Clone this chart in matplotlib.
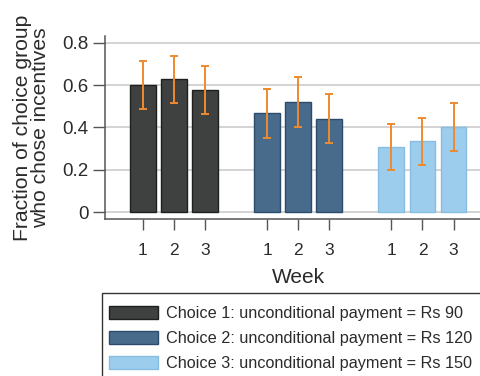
import matplotlib
matplotlib.use("Agg")
import matplotlib.pyplot as plt
from matplotlib.patches import Rectangle
import numpy as np

plt.rcParams['font.family'] = ['Liberation Sans', 'DejaVu Sans']

# fraction choosing incentives, per choice group and week
weeks = ['1', '2', '3']
choice1 = [0.60, 0.627, 0.575]
choice2 = [0.466, 0.521, 0.441]
choice3 = [0.308, 0.334, 0.401]
err1 = [0.113, 0.112, 0.114]
err2 = [0.116, 0.117, 0.115]
err3 = [0.108, 0.110, 0.114]
labels = ['Choice 1: unconditional payment = Rs 90',
          'Choice 2: unconditional payment = Rs 120',
          'Choice 3: unconditional payment = Rs 150']

fills = ['#3f4140', '#486b8c', '#9dcdec']
edges = ['#1e1f1f', '#2c4b6b', '#86bde2']
text_col = '#2b2b2b'

fig = plt.figure(figsize=(4.8, 3.76), dpi=100)
ax = fig.add_axes([105/480, 1-219/376, 1-105/480, (219-36)/376])

groups = [choice1, choice2, choice3]
errs = [err1, err2, err3]
handles = []
xt = []
for g, (vals, e) in enumerate(zip(groups, errs)):
    x = g*4 + np.arange(1, len(vals)+1)
    xt.extend(x)
    b = ax.bar(x, vals, width=0.83, color=fills[g], edgecolor=edges[g],
               linewidth=1.0, zorder=2)
    ax.errorbar(x, vals, yerr=e, fmt='none', ecolor='#ee8a2e', elinewidth=1.4,
                capsize=2.6, capthick=1.4, zorder=3)
    handles.append(b)

ax.set_xlim(-0.21, 11.85)
ax.set_ylim(-0.033, 0.832)
ax.set_yticks([0, 0.2, 0.4, 0.6, 0.8])
ax.set_yticklabels(['0', '0.2', '0.4', '0.6', '0.8'])
ax.set_xticks(xt)
ax.set_xticklabels(weeks*3)
ax.yaxis.grid(True, color='#d3d3d3', linewidth=1.4, zorder=0)
ax.set_axisbelow(True)

for s in ['top', 'right']:
    ax.spines[s].set_visible(False)
for s in ['left', 'bottom']:
    ax.spines[s].set_color('#555555')
    ax.spines[s].set_linewidth(1.1)

ax.tick_params(axis='y', length=9, width=1.0, color='#555555', labelsize=13.5,
               labelcolor=text_col, pad=3)
ax.tick_params(axis='x', length=8, width=1.0, color='#555555', labelsize=12.5,
               labelcolor=text_col, pad=9)

ax.set_ylabel('Fraction of choice group\nwho chose incentives', fontsize=15.2,
              color=text_col, linespacing=0.92)
ax.yaxis.set_label_coords((50 - 105)/375, 0.5)
ax.set_xlabel('Week', fontsize=15, color=text_col)
ax.xaxis.set_label_coords((298 - 105)/375, -0.27)

# legend box runs off the right and bottom edges
fig.patches.append(Rectangle((102/480, -0.1), 1.0, 1-293/376+0.1,
                             transform=fig.transFigure, fill=False,
                             edgecolor='#333333', linewidth=1.0))
fig.legend(handles, labels, loc='upper left',
           bbox_to_anchor=(109/480, 1-306/376), frameon=False,
           fontsize=11.7, handlelength=3.0, handleheight=0.85,
           handletextpad=0.5, labelspacing=0.62, borderaxespad=0,
           borderpad=0, labelcolor=text_col)

fig.savefig('out.png', dpi=100)
